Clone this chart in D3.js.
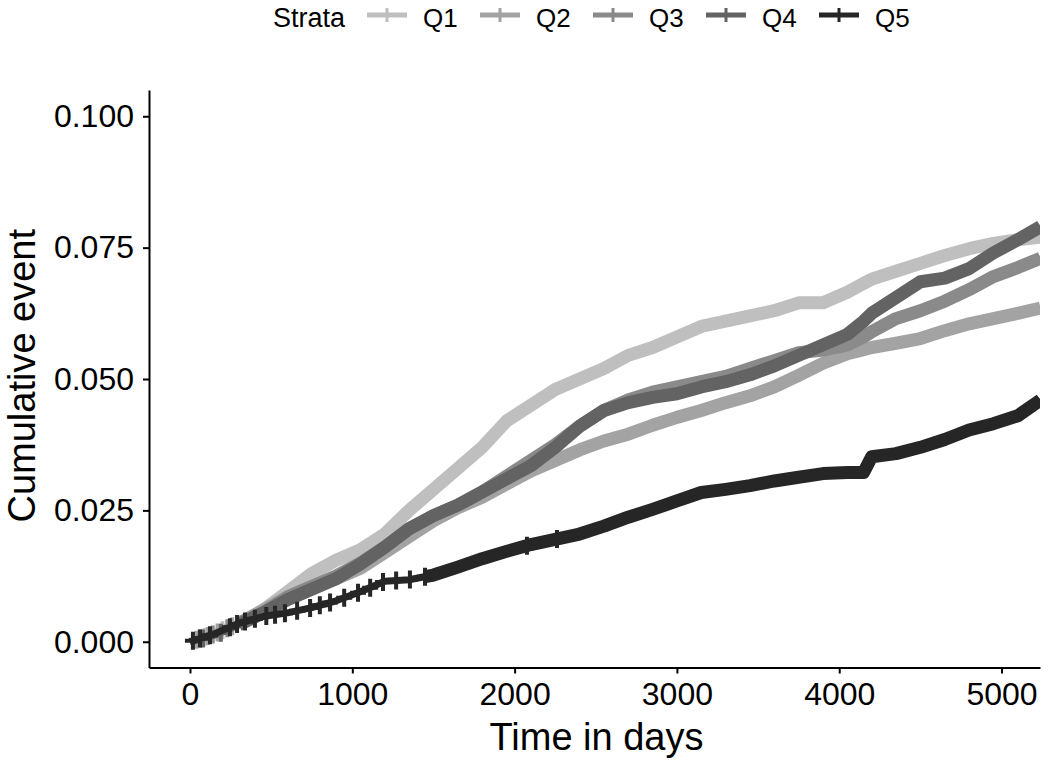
<!DOCTYPE html>
<html>
<head>
<meta charset="utf-8">
<script src="https://cdn.jsdelivr.net/npm/d3@7"></script>
<style>
  html, body { margin: 0; padding: 0; background: #fff; }
  svg { display: block; }
  text { font-family: "Liberation Sans", Arial, sans-serif; fill: #000; }
</style>
</head>
<body>
<svg id="chart" width="1050" height="765"></svg>
<script>
// ---- data ----
const strata = ["Q1", "Q2", "Q3", "Q4", "Q5"];
const times = [0,150,300,450,600,750,900,1050,1200,1350,1500,1650,1800,1950,2100,2250,2400,2550,2700,2850,3000,3150,3300,3450,3600,3750,3900,4050,4150,4200,4350,4500,4650,4800,4950,5100,5240];
const q1 = [0,0.0015,0.0035,0.0060,0.0095,0.0130,0.0155,0.0175,0.0205,0.0250,0.0290,0.0330,0.0370,0.0420,0.0450,0.0480,0.0500,0.0520,0.0545,0.0560,0.0580,0.0600,0.0610,0.0620,0.0630,0.0645,0.0645,0.0665,0.0682,0.0690,0.0705,0.0720,0.0735,0.0748,0.0758,0.0765,0.0770];
const q2 = [0,0.0015,0.0035,0.0060,0.0085,0.0105,0.0120,0.0140,0.0170,0.0200,0.0230,0.0255,0.0275,0.0300,0.0325,0.0345,0.0365,0.0382,0.0395,0.0412,0.0427,0.0440,0.0455,0.0468,0.0485,0.0507,0.0530,0.0548,0.0556,0.0560,0.0568,0.0577,0.0592,0.0605,0.0615,0.0625,0.0635];
const q3 = [0,0.0015,0.0035,0.0055,0.0085,0.0105,0.0125,0.0150,0.0180,0.0215,0.0240,0.0260,0.0285,0.0315,0.0345,0.0375,0.0410,0.0440,0.0460,0.0475,0.0485,0.0495,0.0505,0.0520,0.0535,0.0550,0.0555,0.0565,0.0580,0.0590,0.0615,0.0630,0.0648,0.0670,0.0695,0.0712,0.0730];
const q4 = [0,0.0012,0.0032,0.0055,0.0080,0.0100,0.0120,0.0148,0.0180,0.0215,0.0240,0.0260,0.0285,0.0310,0.0335,0.0370,0.0410,0.0440,0.0455,0.0465,0.0472,0.0485,0.0495,0.0508,0.0525,0.0545,0.0565,0.0585,0.0610,0.0625,0.0655,0.0685,0.0692,0.0710,0.0740,0.0765,0.0790];
const q5 = [0,0.0015,0.0035,0.0048,0.0055,0.0065,0.0078,0.0095,0.0115,0.0118,0.0127,0.0142,0.0158,0.0172,0.0185,0.0195,0.0205,0.0220,0.0237,0.0252,0.0268,0.0284,0.0290,0.0297,0.0306,0.0313,0.0320,0.0322,0.0322,0.0352,0.0358,0.0370,0.0385,0.0403,0.0415,0.0430,0.0460];
// censoring times (visible "+" marks)
const censorQ1 = [90, 200];
const censorQ2 = [40, 110, 170, 260];
const censorQ3 = [60, 140, 230];
const censorQ4 = [80, 190];
const censorQ5 = [18, 62, 123, 246, 290, 339, 400, 470, 524, 585, 660, 740, 800, 863, 950, 1035, 1110, 1189, 1270, 1355, 1448, 2076, 2261];
const xTicks = [0, 1000, 2000, 3000, 4000, 5000];
const yTicks = [0, 0.025, 0.050, 0.075, 0.100];
const colors = ["#BFBFBF", "#A3A3A3", "#8A8A8A", "#636363", "#262626"];

const seriesValues = [q1, q2, q3, q4, q5];
const censors = [censorQ1, censorQ2, censorQ3, censorQ4, censorQ5];
// where the dense censoring turns the curve into a solid band (style)
const bandFrom = [300, 300, 300, 300, 1450];

// ---- layout ----
const svg = d3.select("#chart");
const pLeft = 149, pRight = 1040, pTop = 90, pBottom = 667.5;

const x = d3.scaleLinear().domain([-252.6, 5237]).range([pLeft, pRight]);
const y = d3.scaleLinear().domain([-0.0049, 0.105]).range([pBottom, pTop]);

svg.append("defs").append("clipPath").attr("id", "panel")
  .append("rect").attr("x", pLeft).attr("y", pTop).attr("width", pRight - pLeft).attr("height", pBottom - pTop);

const curveLine = d3.line().x(d => x(d[0])).y(d => y(d[1])).curve(d3.curveLinear);

const plot = svg.append("g").attr("clip-path", "url(#panel)");

strata.forEach((s, i) => {
  const pts = times.map((t, k) => [t, seriesValues[i][k]]);
  const along = d3.scaleLinear().domain(times).range(seriesValues[i]);
  // thin curve
  plot.append("path")
    .attr("d", curveLine(pts))
    .attr("fill", "none")
    .attr("stroke", colors[i])
    .attr("stroke-width", 7)
    .attr("stroke-linejoin", "round");
  // dense censoring band
  const b0 = bandFrom[i];
  const bandPts = [[b0, along(b0)]].concat(pts.filter(p => p[0] > b0));
  plot.append("path")
    .attr("d", curveLine(bandPts))
    .attr("fill", "none")
    .attr("stroke", colors[i])
    .attr("stroke-width", 13)
    .attr("stroke-linejoin", "round");
  censors[i].forEach(t => {
    const cx = x(t), cy = y(along(t));
    plot.append("path")
      .attr("d", `M${cx - 8},${cy}H${cx + 8}M${cx},${cy - 9}V${cy + 9}`)
      .attr("stroke", colors[i])
      .attr("stroke-width", 4)
      .attr("fill", "none");
  });
});

// ---- axes ----
const xAxis = d3.axisBottom(x).tickValues(xTicks).tickSize(6).tickSizeOuter(0).tickPadding(9).tickFormat(d3.format("d"));
const gx = svg.append("g").attr("transform", `translate(0,${pBottom})`).call(xAxis);
gx.select(".domain").attr("stroke", "#000").attr("stroke-width", 2);
gx.selectAll(".tick line").attr("stroke", "#000").attr("stroke-width", 2);
gx.selectAll(".tick text").attr("font-size", 32).attr("fill", "#000")
  .attr("font-family", "Liberation Sans, Arial, sans-serif");

const yAxis = d3.axisLeft(y).tickValues(yTicks).tickSize(6).tickSizeOuter(0).tickPadding(9).tickFormat(d3.format(".3f"));
const gy = svg.append("g").attr("transform", `translate(${pLeft},0)`).call(yAxis);
gy.select(".domain").attr("stroke", "#000").attr("stroke-width", 2);
gy.selectAll(".tick line").attr("stroke", "#000").attr("stroke-width", 2);
gy.selectAll(".tick text").attr("font-size", 32).attr("fill", "#000")
  .attr("font-family", "Liberation Sans, Arial, sans-serif");

// axis titles
svg.append("text").attr("x", (pLeft + pRight) / 2 + 2).attr("y", 750)
  .attr("text-anchor", "middle").attr("font-size", 38).text("Time in days");
svg.append("text").attr("transform", `translate(35,${(pTop + pBottom) / 2 - 3}) rotate(-90)`)
  .attr("text-anchor", "middle").attr("font-size", 38).text("Cumulative event");

// ---- legend ----
const lg = svg.append("g");
lg.append("text").attr("x", 273).attr("y", 27).attr("font-size", 27).text("Strata");
strata.forEach((s, i) => {
  const kx = 367 + 113 * i;
  lg.append("line").attr("x1", kx).attr("x2", kx + 40).attr("y1", 15).attr("y2", 15)
    .attr("stroke", colors[i]).attr("stroke-width", 5);
  lg.append("line").attr("x1", kx + 20).attr("x2", kx + 20).attr("y1", 8).attr("y2", 22)
    .attr("stroke", colors[i]).attr("stroke-width", 3);
  lg.append("text").attr("x", kx + 56).attr("y", 27).attr("font-size", 26).text(s);
});
</script>
</body>
</html>
